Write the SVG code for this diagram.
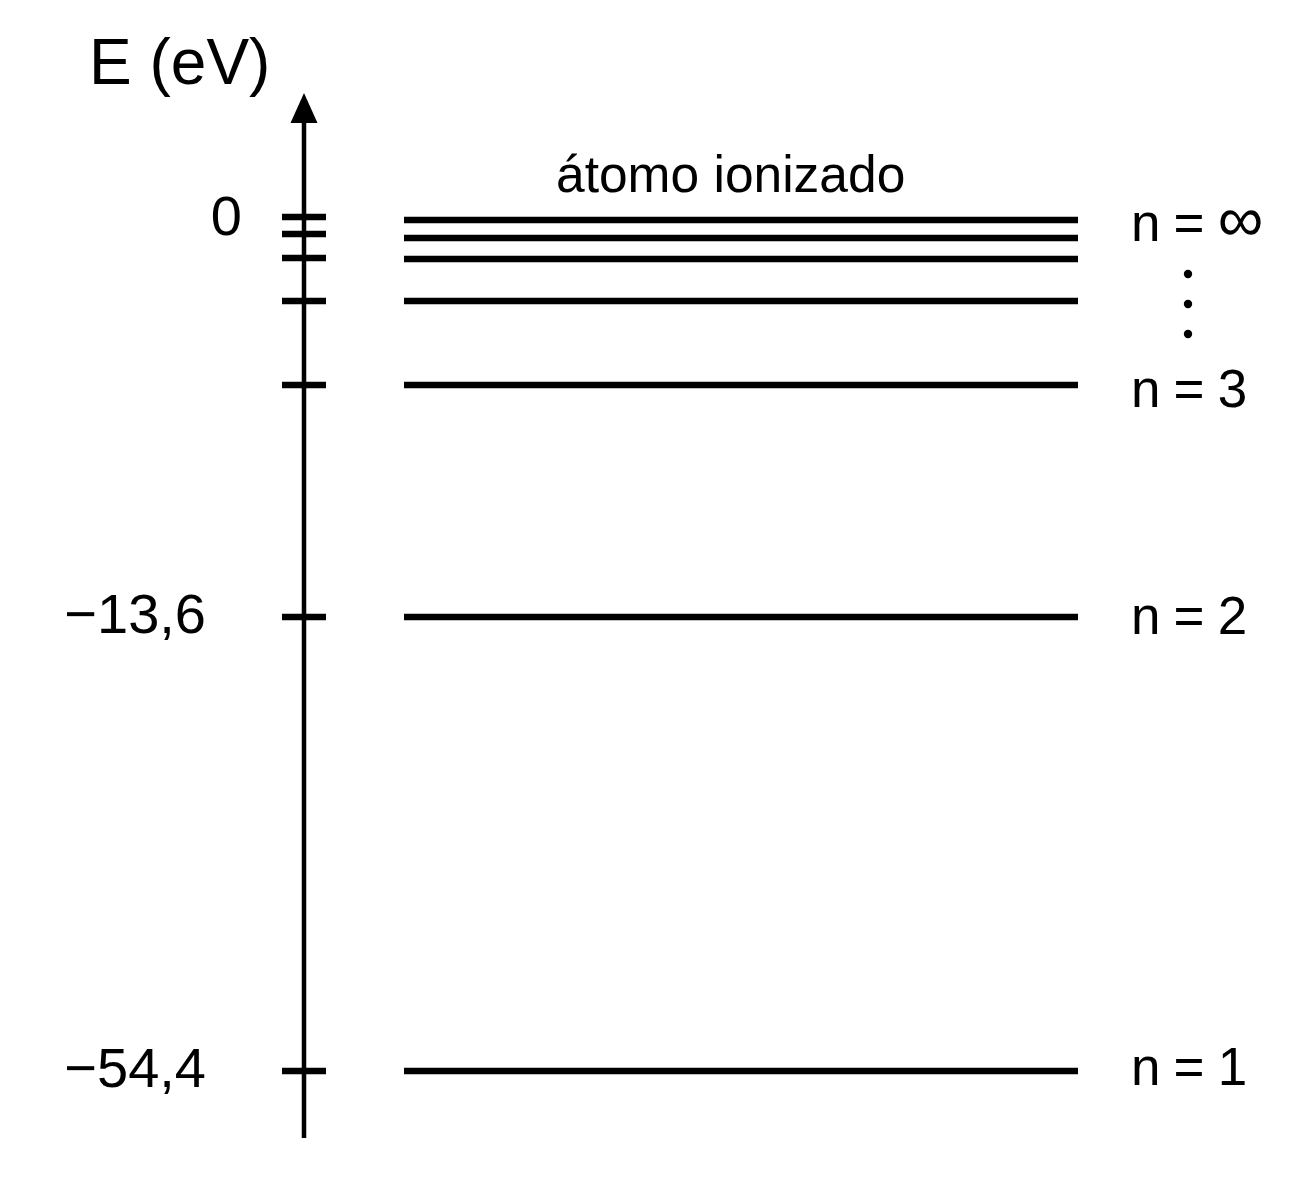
<svg xmlns="http://www.w3.org/2000/svg" width="1306" height="1204" viewBox="0 0 1306 1204">
<style>
text{font-family:"Liberation Sans",Arial,sans-serif;fill:#000}
.lbl{font-size:56px}
.nl{font-size:53px;letter-spacing:-0.8px}
.lv{stroke:#000;stroke-width:6.5;fill:none}
.tk{stroke:#000;stroke-width:6.5;fill:none}
</style>
<rect width="1306" height="1204" fill="#fff"/>
<g id="axis">
<line x1="304" y1="118" x2="304" y2="1138" stroke="#000" stroke-width="4.5"/>
<polygon points="304,93 290.5,123 317.5,123" fill="#000"/>
<text x="89" y="84" style="font-size:64px">E (eV)</text>
</g>
<g id="ticks">
<line class="tk" x1="282" y1="217" x2="326" y2="217"/>
<line class="tk" x1="282" y1="234" x2="326" y2="234"/>
<line class="tk" x1="282" y1="258" x2="326" y2="258"/>
<line class="tk" x1="282" y1="301" x2="326" y2="301"/>
<line class="tk" x1="282" y1="385" x2="326" y2="385"/>
<line class="tk" x1="282" y1="617" x2="326" y2="617"/>
<line class="tk" x1="282" y1="1071" x2="326" y2="1071"/>
</g>
<g id="axis-labels">
<text class="lbl" x="242" y="235" text-anchor="end">0</text>
<text class="lbl" x="206" y="633" text-anchor="end">−13,6</text>
<text class="lbl" x="206" y="1087" text-anchor="end">−54,4</text>
</g>
<g id="levels">
<line class="lv" x1="404" y1="220" x2="1078" y2="220"/>
<line class="lv" x1="404" y1="238" x2="1078" y2="238"/>
<line class="lv" x1="404" y1="259" x2="1078" y2="259"/>
<line class="lv" x1="404" y1="301" x2="1078" y2="301"/>
<line class="lv" x1="404" y1="385" x2="1078" y2="385"/>
<line class="lv" x1="404" y1="617" x2="1078" y2="617"/>
<line class="lv" x1="404" y1="1071" x2="1078" y2="1071"/>
</g>
<g id="title">
<text x="556" y="192" style="font-size:51.5px">átomo ionizado</text>
</g>
<g id="level-labels">
<text class="nl" x="1131" y="241">n = <tspan style="font-size:64px">∞</tspan></text>
<circle cx="1188" cy="274" r="4.2" fill="#000"/>
<circle cx="1188" cy="304" r="4.2" fill="#000"/>
<circle cx="1188" cy="334" r="4.2" fill="#000"/>
<text class="nl" x="1131" y="407">n = 3</text>
<text class="nl" x="1131" y="634">n = 2</text>
<text class="nl" x="1131" y="1085">n = 1</text>
</g>
</svg>
